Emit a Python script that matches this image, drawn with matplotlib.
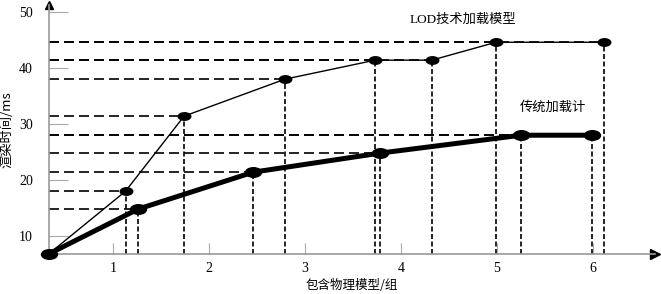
import numpy as np
import matplotlib.pyplot as plt
from matplotlib.path import Path

plt.rcParams['font.family'] = ['Liberation Serif', 'Noto Sans CJK SC']

# data
lod_x = [0.33, 1.13, 1.74, 2.79, 3.73, 4.32, 4.99, 6.11]
lod_y = [6.8, 18.0, 31.4, 38.0, 41.4, 41.4, 44.6, 44.6]
trad_x = [0.33, 1.26, 2.46, 3.78, 5.25, 5.99]
trad_y = [6.8, 14.8, 21.4, 24.8, 28.0, 28.0]

xticks = [1, 2, 3, 4, 5, 6]
yticks = [10, 20, 30, 40, 50]

x_lo, x_hi = 0.333, 6.646
y_lo, y_hi = 6.79, 51.25

# flattened ellipse marker
circ = Path.unit_circle()
ellipse = Path(circ.vertices * [1.0, 0.6], circ.codes)

fig = plt.figure(figsize=(6.61, 2.94), dpi=100)
ax = fig.add_axes([49 / 661, 40 / 294, 606 / 661, 249 / 294])
ax.set_xlim(x_lo, x_hi)
ax.set_ylim(y_lo, y_hi)

# guide lines
for xs, ys in [(lod_x, lod_y), (trad_x, trad_y)]:
    for x, y in zip(xs[1:], ys[1:]):
        ax.plot([x_lo, x], [y, y], color='k', lw=1.2, dashes=(6, 3), zorder=1)
        ax.plot([x, x], [y_lo, y], color='k', lw=1.2, dashes=(3, 1.5), zorder=1)

ax.plot(lod_x, lod_y, color='k', lw=1.0, marker=ellipse, markersize=9, zorder=3)
ax.plot(trad_x, trad_y, color='k', lw=3.6, marker=ellipse, markersize=11.5,
        zorder=4, clip_on=False)

ax.text(4.64, 48.6, 'LOD技术加载模型', ha='center', va='center', fontsize=9.5,
        family=['Liberation Serif', 'Noto Sans CJK SC'])
ax.text(5.58, 33.0, '传统加载计', ha='center', va='center', fontsize=9.5,
        family=['Noto Sans CJK SC'])

# axes styling
for s in ['top', 'right']:
    ax.spines[s].set_visible(False)
for s in ['left', 'bottom']:
    ax.spines[s].set_color('#999999')
    ax.spines[s].set_linewidth(1.2)
ax.plot(1, 0, '>', color='k', markersize=7, transform=ax.transAxes, clip_on=False)
ax.plot(0, 1, '^', color='k', markersize=6, transform=ax.transAxes, clip_on=False)

ax.set_xticks(xticks)
ax.set_yticks(yticks)
ax.tick_params(axis='y', direction='in', length=14, width=0.8, color='#aaaaaa',
               pad=11.5, labelsize=10)
ax.tick_params(axis='x', direction='in', length=8, width=0.8, color='#aaaaaa',
               pad=6, labelsize=10)

ax.set_xlabel('包含物理模型/组', fontsize=9, family=['Noto Sans CJK SC'])
ax.xaxis.set_label_coords(0.5, -0.102)
ax.set_ylabel('渲染时间/ms', fontsize=9.5, family=['Noto Sans CJK SC', 'DejaVu Sans'])
ax.yaxis.set_label_coords(-0.058, 0.5)

fig.savefig('out.png', dpi=100)
